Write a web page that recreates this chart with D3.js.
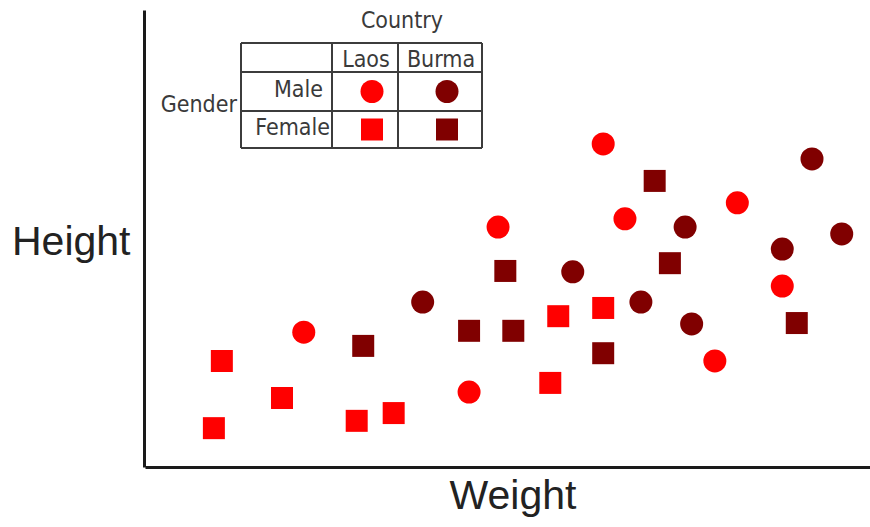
<!DOCTYPE html>
<html>
<head>
<meta charset="utf-8">
<script src="https://cdn.jsdelivr.net/npm/d3@7"></script>
<style>
  html, body { margin: 0; padding: 0; background: #fff; }
  svg { display: block; }
  .legend-text { font-family: "DejaVu Sans Condensed", "DejaVu Sans", sans-serif; font-stretch: condensed; font-size: 23px; fill: #3a3a3a; }
  .axis-title { font-family: "Liberation Sans", Arial, sans-serif; font-size: 41px; fill: #222; }
</style>
</head>
<body>
<svg id="chart" width="870" height="527"></svg>
<script>
// ---- Data (arbitrary units) ----
const countries = ["Laos", "Burma"];
const genders = ["Male", "Female"];
const countryColors = ["#ff0000", "#800000"];

const laosMaleWeight   = [21.9, 48.7, 44.7, 63.2, 66.2, 81.7, 87.9, 78.6];
const laosMaleHeight   = [29.5, 52.5, 16.4, 70.7, 54.3, 57.8, 39.6, 23.2];
const laosFemaleWeight = [10.6, 9.5, 18.9, 29.2, 34.3, 57.0, 63.2, 55.9];
const laosFemaleHeight = [23.2, 8.5, 15.1, 10.1, 11.8, 33.0, 34.8, 18.4];
const burmaMaleWeight   = [38.3, 59.0, 68.4, 74.5, 75.4, 92.0, 87.9, 96.1];
const burmaMaleHeight   = [36.1, 42.7, 36.1, 52.5, 31.3, 67.4, 47.7, 51.0];
const burmaFemaleWeight = [30.1, 49.7, 44.7, 50.8, 70.3, 72.4, 63.2, 89.9];
const burmaFemaleHeight = [26.5, 42.9, 29.8, 29.8, 62.6, 44.6, 24.9, 31.5];

const xDomain = [0, 100];
const yDomain = [0, 100];

// ---- Build points ----
const series = [
  { country: "Laos",  gender: "Male",   w: laosMaleWeight,    h: laosMaleHeight },
  { country: "Laos",  gender: "Female", w: laosFemaleWeight,  h: laosFemaleHeight },
  { country: "Burma", gender: "Male",   w: burmaMaleWeight,   h: burmaMaleHeight },
  { country: "Burma", gender: "Female", w: burmaFemaleWeight, h: burmaFemaleHeight }
];
const points = [];
series.forEach(s => s.w.forEach((w, i) => points.push({ country: s.country, gender: s.gender, weight: w, height: s.h[i] })));

const svg = d3.select("#chart");
const x = d3.scaleLinear().domain(xDomain).range([145, 870]);
const y = d3.scaleLinear().domain(yDomain).range([467, 10]);
const color = d3.scaleOrdinal().domain(countries).range(countryColors);
const shape = d3.scaleOrdinal().domain(genders).range([d3.symbolCircle, d3.symbolSquare]);
const symbolSize = g => g === "Male" ? Math.PI * 11.5 * 11.5 : 22 * 22;
const sym = d3.symbol().type(d => shape(d.gender)).size(d => symbolSize(d.gender));

// ---- Axes (no ticks) ----
const xAxis = svg.append("g").attr("transform", `translate(0,${y(0)})`)
  .call(d3.axisBottom(x).ticks(0).tickSizeOuter(0));
const yAxis = svg.append("g").attr("transform", `translate(${x(0) - 1},0)`)
  .call(d3.axisLeft(y).ticks(0).tickSizeOuter(0));
[xAxis, yAxis].forEach(a => a.select(".domain").attr("stroke", "#1a1a1a").attr("stroke-width", 3));

svg.append("text").attr("class", "axis-title").attr("x", 12).attr("y", 255).text("Height");
svg.append("text").attr("class", "axis-title").attr("x", 513).attr("y", 509).attr("text-anchor", "middle").text("Weight");

// ---- Points ----
svg.append("g").selectAll("path").data(points).join("path")
  .attr("transform", d => `translate(${x(d.weight)},${y(d.height)})`)
  .attr("d", sym)
  .attr("fill", d => color(d.country));

// ---- Legend table ----
const lg = svg.append("g");
const colX = [241, 332, 398, 482];
const rowY = [43, 72, 111, 148];
const lineStyle = sel => sel.attr("stroke", "#3c3c3c").attr("stroke-width", 2);
colX.forEach(cx => lineStyle(lg.append("line").attr("x1", cx).attr("x2", cx).attr("y1", rowY[0]).attr("y2", rowY[3])));
rowY.forEach(ry => lineStyle(lg.append("line").attr("x1", colX[0]).attr("x2", colX[3]).attr("y1", ry).attr("y2", ry)));

lg.append("text").attr("class", "legend-text").attr("x", 402).attr("y", 28).attr("text-anchor", "middle").text("Country");
lg.append("text").attr("class", "legend-text").attr("x", 237).attr("y", 112).attr("text-anchor", "end").text("Gender");
countries.forEach((c, i) => {
  lg.append("text").attr("class", "legend-text")
    .attr("x", (colX[i + 1] + colX[i + 2]) / 2 + 1).attr("y", 67)
    .attr("text-anchor", "middle").text(c);
});
const genderLabelX = [323, 330];
const genderBaseline = [97, 135];
genders.forEach((g, j) => {
  lg.append("text").attr("class", "legend-text")
    .attr("x", genderLabelX[j]).attr("y", genderBaseline[j])
    .attr("text-anchor", "end").text(g);
  countries.forEach((c, i) => {
    lg.append("path")
      .attr("transform", `translate(${(colX[i + 1] + colX[i + 2]) / 2 + 7},${(rowY[j + 1] + rowY[j + 2]) / 2})`)
      .attr("d", sym({ gender: g }))
      .attr("fill", color(c));
  });
});
</script>
</body>
</html>
